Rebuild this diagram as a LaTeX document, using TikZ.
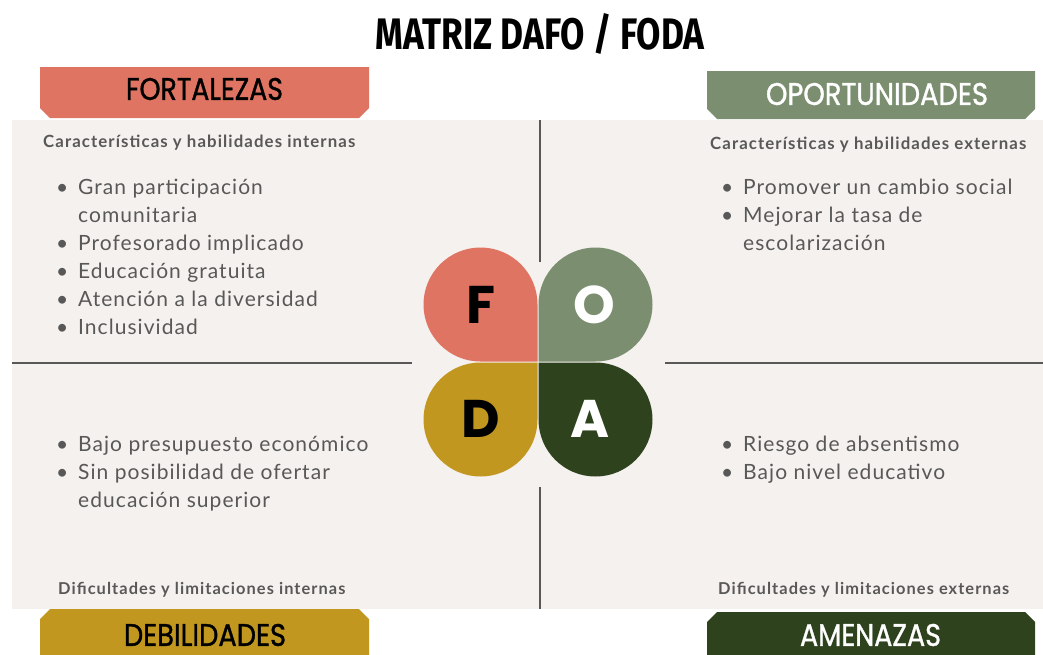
\documentclass[tikz,border=0pt]{standalone}
\usepackage{fontspec}
\setmainfont{Lato}
\newfontfamily\itemfont[LetterSpace=5]{Lato}
\newfontfamily\headfont[LetterSpace=6.5]{Lato}
\newfontfamily\capsfont{Fira Sans}
\newfontfamily\tabfont[FakeBold=1.2]{Poppins}
\newfontfamily\petalfont{Poppins}

\definecolor{salmon}{HTML}{E07462}
\definecolor{sage}{HTML}{7B8F70}
\definecolor{mustard}{HTML}{C1971F}
\definecolor{forest}{HTML}{2E421E}
\definecolor{paper}{HTML}{F5F1EE}
\definecolor{ink}{HTML}{585858}

% squeezed capitals: width, height, text
\newcommand{\squeeze}[3]{\resizebox{#1}{#2}{#3}}
% label tab with chamfered corners: style, x1, y1, x2, y2 (first y is the flat side)
\newcommand{\tabshape}[5]{%
  \fill[#1] (#2,#3) -- (#4,#3) -- (#4,{#5+(#3<#5?-10:10)}) -- ({#4-10},#5)
    -- ({#2+10},#5) -- (#2,{#5+(#3<#5?-10:10)}) -- cycle;}

\tikzset{
  head/.style={anchor=base west, inner sep=0pt, text=ink, font=\headfont\fontsize{16.8}{18}\selectfont\bfseries},
  foot/.style={head, font=\headfont\fontsize{16.4}{18}\selectfont\bfseries},
  item/.style={anchor=base west, inner sep=0pt, text=ink, font=\itemfont\fontsize{21}{24}\selectfont},
  tabtext/.style={inner sep=0pt, font=\tabfont},
  letter/.style={inner sep=0pt, font=\petalfont\bfseries\fontsize{53}{53}\selectfont},
  divider/.style={draw=ink, line width=1.8pt}
}

\begin{document}
\begin{tikzpicture}[x=1pt, y=-1pt]
	\useasboundingbox (0,0) rectangle (1043,654);
	\clip (0,0) rectangle (1043,654);
	\fill[white] (0,0) rectangle (1043,654);
	\fill[paper] (12,120) rectangle (1043,609);

	% title
	\node[inner sep=0pt, font=\capsfont\bfseries] (title) at (540,34) {\squeeze{329pt}{36pt}{MATRIZ DAFO / FODA}};

	% tabs
	\tabshape{salmon}{40}{67}{369}{118}
	\tabshape{sage}{707}{71}{1035}{119}
	\tabshape{mustard}{40}{660}{369}{609}
	\tabshape{forest}{707}{660}{1035}{612}
	\node[tabtext] (fort) at (204.5,89) {\squeeze{157pt}{22pt}{FORTALEZAS}};
	\node[tabtext, text=white] (opor) at (877,94) {\squeeze{222pt}{22pt}{OPORTUNIDADES}};
	\node[tabtext] (debi) at (205,635) {\squeeze{162pt}{22pt}{DEBILIDADES}};
	\node[tabtext, text=white] (amen) at (870.5,635) {\squeeze{141pt}{22pt}{AMENAZAS}};

	% dividers
	\coordinate (hl1) at (12,363);
	\coordinate (hl2) at (412,363);
	\coordinate (hr1) at (665,363);
	\coordinate (hr2) at (1043,363);
	\coordinate (vt1) at (540,120);
	\coordinate (vt2) at (540,262);
	\coordinate (vb1) at (540,487);
	\coordinate (vb2) at (540,609);
	\draw[divider] (hl1) -- (hl2);
	\draw[divider] (hr1) -- (hr2);
	\draw[divider] (vt1) -- (vt2);
	\draw[divider] (vb1) -- (vb2);

	% petals
	\fill[salmon] (537.5,361.5) -- (480.5,361.5) arc[start angle=90, end angle=360, radius=57] -- cycle;
	\fill[sage] (538.5,361.5) -- (538.5,304.5) arc[start angle=180, end angle=450, radius=57] -- cycle;
	\fill[mustard] (537.5,362.5) -- (537.5,419.5) arc[start angle=0, end angle=270, radius=57] -- cycle;
	\fill[forest] (538.5,362.5) -- (595.5,362.5) arc[start angle=270, end angle=540, radius=57] -- cycle;
	\node[letter] (f) at (481,305) {F};
	\node[letter, text=white] (o) at (594,305) {O};
	\node[letter] (d) at (481,419) {D};
	\node[letter, text=white] (a) at (590,419) {A};

	% headers and footers
	\node[head] (hint) at (43,147) {Características y habilidades internas};
	\node[head] (hext) at (710,149) {Características y habilidades externas};
	\node[foot] (fint) at (58,594) {Dificultades y limitaciones internas};
	\node[foot] (fext) at (718,594) {Dificultades y limitaciones externas};

	% lists
	\foreach \n/\b/\t in {0/1/Gran participación, 1/0/comunitaria, 2/1/Profesorado implicado,
		3/1/Educación gratuita, 4/1/Atención a la diversidad, 5/1/Inclusividad}
		\node[item] at (78,194+28*\n) {\ifnum\b=1 \llap{•\hspace{10pt}}\fi\t};
	\foreach \n/\b/\t in {0/1/Promover un cambio social, 1/1/Mejorar la tasa de, 2/0/escolarización}
		\node[item] at (743,194+28*\n) {\ifnum\b=1 \llap{•\hspace{10pt}}\fi\t};
	\foreach \n/\b/\t in {0/1/Bajo presupuesto económico, 1/1/Sin posibilidad de ofertar, 2/0/educación superior}
		\node[item] at (78,451+28*\n) {\ifnum\b=1 \llap{•\hspace{10pt}}\fi\t};
	\foreach \n/\b/\t in {0/1/Riesgo de absentismo, 1/1/Bajo nivel educativo}
		\node[item] at (743,451+28*\n) {\ifnum\b=1 \llap{•\hspace{10pt}}\fi\t};
\end{tikzpicture}
\end{document}
